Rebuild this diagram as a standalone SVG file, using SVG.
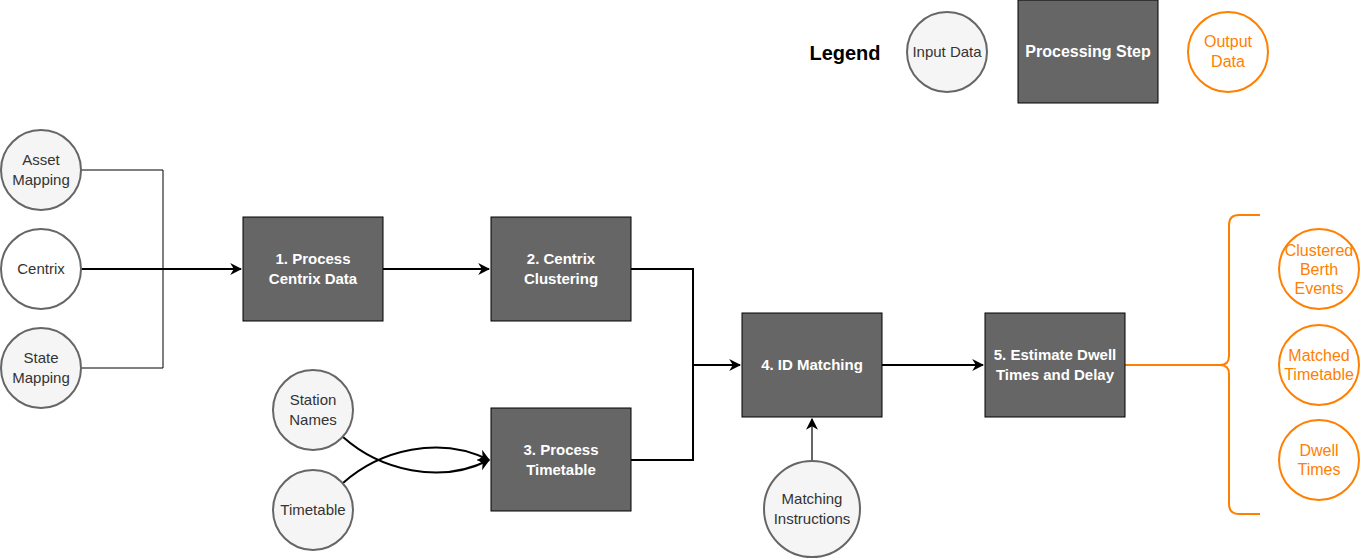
<svg xmlns="http://www.w3.org/2000/svg" width="1360" height="560" viewBox="0 0 1360 560">
<defs>
<style>
.in{fill:#f5f5f5;stroke:#666666;stroke-width:2}
.out{fill:#ffffff;stroke:#FF8000;stroke-width:2}
.box{fill:#666666;stroke:#000000;stroke-width:1}
.tin{font-family:"Liberation Sans",Arial,sans-serif;font-size:15px;fill:#333333;text-anchor:middle}
.tout{font-family:"Liberation Sans",Arial,sans-serif;font-size:16px;fill:#FF8000;text-anchor:middle}
.tbox{font-family:"Liberation Sans",Arial,sans-serif;font-size:15px;font-weight:bold;fill:#ffffff;text-anchor:middle}
.c1{fill:none;stroke:#000000;stroke-width:1}
.c2{fill:none;stroke:#000000;stroke-width:2}
</style>
<marker id="arrB" viewBox="0 0 10 10" refX="9" refY="5" markerWidth="12" markerHeight="12" orient="auto" markerUnits="userSpaceOnUse">
<path d="M0,0 L10,5 L0,10 L3,5 Z" fill="#000000"/>
</marker>
</defs>

<g id="connectors">
<path class="c1" d="M81,170 H163 V368 H81"/>
<path class="c2" d="M81,269 H241" marker-end="url(#arrB)"/>
<path class="c2" d="M383,269 H489" marker-end="url(#arrB)"/>
<path class="c2" d="M631,269 H693 V460 H631"/>
<path class="c2" d="M693,365 H740" marker-end="url(#arrB)"/>
<path class="c2" d="M882,365 H983" marker-end="url(#arrB)"/>
<path class="c2" d="M343,437 C380,470 440,485 489,460" marker-end="url(#arrB)"/>
<path class="c2" d="M343,483 C380,450 440,435 489,460" marker-end="url(#arrB)"/>
<path fill="none" stroke="#666666" stroke-width="2" d="M812,461 V419" marker-end="url(#arrB)"/>
<path fill="none" stroke="#FF8000" stroke-width="2" d="M1125,365 H1220 Q1229,365 1229,356 V225 Q1229,215 1239,215 H1260 M1220,365 Q1229,365 1229,374 V504 Q1229,514 1239,514 H1260"/>
</g>

<g id="legend">
<text x="845" y="60" font-family="'Liberation Sans',Arial,sans-serif" font-size="20px" font-weight="bold" fill="#000000" text-anchor="middle">Legend</text>
<g id="legend-input"><circle class="in" cx="947" cy="52" r="40"/><text class="tin" x="947" y="57">Input Data</text></g>
<g id="legend-process"><rect class="box" x="1018" y="0" width="140" height="103"/><text class="tbox" x="1088" y="57" style="font-size:16px">Processing Step</text></g>
<g id="legend-output"><circle class="out" cx="1228" cy="52" r="40"/><text class="tout" x="1228" y="47">Output</text><text class="tout" x="1228" y="67">Data</text></g>
</g>

<g id="asset-mapping"><circle class="in" cx="41" cy="170" r="40"/><text class="tin" x="41" y="165">Asset</text><text class="tin" x="41" y="185">Mapping</text></g>
<g id="centrix"><circle class="in" cx="41" cy="269" r="40" style="fill:#ffffff"/><text class="tin" x="41" y="274">Centrix</text></g>
<g id="state-mapping"><circle class="in" cx="41" cy="368" r="40"/><text class="tin" x="41" y="363">State</text><text class="tin" x="41" y="383">Mapping</text></g>

<g id="station-names"><circle class="in" cx="313" cy="410" r="40"/><text class="tin" x="313" y="405">Station</text><text class="tin" x="313" y="425">Names</text></g>
<g id="timetable"><circle class="in" cx="313" cy="510" r="40"/><text class="tin" x="313" y="515">Timetable</text></g>

<g id="step1"><rect class="box" x="243" y="217" width="140" height="104"/><text class="tbox" x="313" y="264">1. Process</text><text class="tbox" x="313" y="284">Centrix Data</text></g>
<g id="step2"><rect class="box" x="491" y="217" width="140" height="104"/><text class="tbox" x="561" y="264">2. Centrix</text><text class="tbox" x="561" y="284">Clustering</text></g>
<g id="step3"><rect class="box" x="491" y="408" width="140" height="103"/><text class="tbox" x="561" y="455">3. Process</text><text class="tbox" x="561" y="475">Timetable</text></g>
<g id="step4"><rect class="box" x="742" y="313" width="140" height="104"/><text class="tbox" x="812" y="370">4. ID Matching</text></g>
<g id="step5"><rect class="box" x="985" y="313" width="140" height="104"/><text class="tbox" x="1055" y="360">5. Estimate Dwell</text><text class="tbox" x="1055" y="380">Times and Delay</text></g>

<g id="matching-instructions"><circle class="in" cx="812" cy="509" r="48"/><text class="tin" x="812" y="504">Matching</text><text class="tin" x="812" y="524">Instructions</text></g>

<g id="clustered-berth-events"><circle class="out" cx="1319" cy="269" r="40"/><text class="tout" x="1319" y="256">Clustered</text><text class="tout" x="1319" y="275">Berth</text><text class="tout" x="1319" y="294">Events</text></g>
<g id="matched-timetable"><circle class="out" cx="1319" cy="365" r="40"/><text class="tout" x="1319" y="361">Matched</text><text class="tout" x="1319" y="380">Timetable</text></g>
<g id="dwell-times"><circle class="out" cx="1319" cy="460" r="40"/><text class="tout" x="1319" y="456">Dwell</text><text class="tout" x="1319" y="475">Times</text></g>
</svg>
